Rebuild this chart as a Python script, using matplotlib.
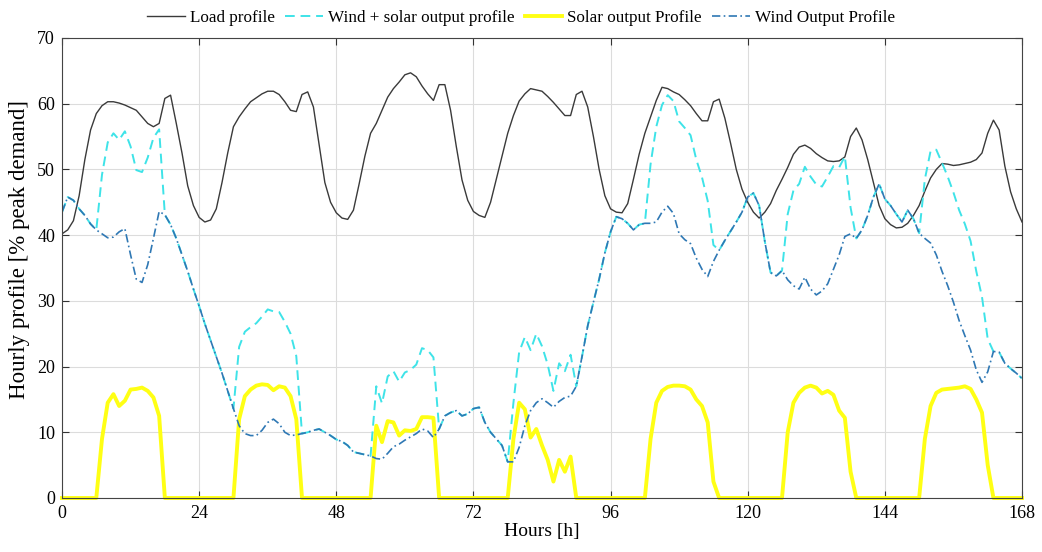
import numpy as np
import matplotlib
matplotlib.use('Agg')
import matplotlib.pyplot as plt

# hourly values over one week (h0 .. h168)
hours = np.arange(0, 169)

load = [
    40.2, 40.8, 42.2, 46, 51.5, 56, 58.5, 59.7, 60.3, 60.3, 60.1, 59.8, 59.4, 59, 58, 57, 56.5, 57, 60.8, 61.3, 57, 52.5, 47.5, 44.5,
    42.7, 42, 42.3, 44, 48, 52.5, 56.5, 58, 59.2, 60.3, 60.9, 61.5, 61.9, 61.9, 61.4, 60.3, 59, 58.8, 61.4, 61.8, 59.5, 53.8, 48, 45,
    43.4, 42.6, 42.4, 43.8, 47.8, 52, 55.5, 57, 59, 61, 62.3, 63.3, 64.4, 64.7, 64.1, 62.7, 61.5, 60.5, 62.9, 62.9, 59, 53.5, 48.4, 45.3,
    43.6, 43, 42.7, 45, 48.5, 52, 55.5, 58.2, 60.4, 61.5, 62.3, 62.1, 61.9, 61.1, 60.2, 59.2, 58.2, 58.2, 61.4, 61.9, 59.5, 55, 50, 46,
    44, 43.5, 43.4, 44.8, 48.5, 52.3, 55.5, 58, 60.5, 62.5, 62.3, 61.8, 61.4, 60.6, 59.7, 58.5, 57.4, 57.4, 60.3, 60.7, 57.8, 54, 50, 47,
    45, 43.5, 42.6, 43.5, 44.8, 46.8, 48.5, 50.3, 52.3, 53.4, 53.7, 53.2, 52.4, 51.8, 51.3, 51.2, 51.3, 51.9, 55, 56.3, 54.5, 51.5, 48, 44.5,
    42.5, 41.6, 41.1, 41.2, 41.8, 43, 44.5, 46.7, 48.7, 50, 50.9, 50.8, 50.6, 50.7, 50.9, 51.1, 51.5, 52.5, 55.5, 57.5, 56, 50.5, 46.6, 44,
    42,
]

wind = [
    43.5, 45.8, 45.3, 44, 43, 41.7, 40.8, 40.2, 39.6, 39.7, 40.5, 41, 37, 33.3, 32.8, 35.5, 39.5, 43.6, 43.1, 41.6, 39.5, 37, 34.5, 31.8,
    29.2, 26.5, 24, 21.5, 19, 16.3, 13.6, 11, 9.8, 9.5, 9.5, 10.3, 11.5, 12, 11.3, 10, 9.5, 9.6, 9.8, 10, 10.3, 10.5, 10, 9.5,
    8.9, 8.6, 8, 7, 6.8, 6.6, 6.4, 6, 5.9, 6.8, 7.8, 8.2, 8.8, 9.3, 9.8, 10.5, 10.2, 9.2, 10.5, 12.5, 13, 13.3, 12.5, 12.8,
    13.6, 13.8, 11.5, 10, 9, 8, 5.5, 5.5, 7.7, 11, 13.3, 14.5, 15.1, 14.5, 13.8, 14.7, 15.3, 15.5, 17, 21.5, 26.2, 29.8, 33.3, 37.3,
    40.5, 42.8, 42.5, 41.8, 40.8, 41.6, 41.8, 41.8, 42, 43.5, 44.4, 43.3, 40.2, 39.3, 38.7, 36.5, 34.8, 33.7, 36, 37.7, 39.2, 40.6, 42, 43.5,
    45.8, 46.4, 44.5, 39, 34.3, 33.8, 34.6, 33.2, 32.3, 31.8, 33.6, 31.8, 30.9, 31.5, 32.6, 34.8, 37, 39.8, 40.2, 39.5, 40.8, 43, 45.8, 47.8,
    45.5, 44.5, 43.2, 42, 43.8, 42.5, 40.3, 39.5, 38.8, 37, 34.5, 32.3, 29.8, 27, 24.7, 22.5, 19.5, 17.6, 19.2, 22.3, 22.2, 20.5, 19.7, 19,
    18.2,
]

solar = [
    0, 0, 0, 0, 0, 0, 0, 9, 14.5, 15.8, 14, 14.8, 16.5, 16.6, 16.8, 16.3, 15.3, 12.5, 0, 0, 0, 0, 0, 0,
    0, 0, 0, 0, 0, 0, 0, 12, 15.5, 16.5, 17.1, 17.3, 17.2, 16.4, 17, 16.8, 15.5, 12, 0, 0, 0, 0, 0, 0,
    0, 0, 0, 0, 0, 0, 0, 11, 8.5, 11.7, 11.5, 9.5, 10.3, 10.2, 10.5, 12.3, 12.3, 12.2, 0, 0, 0, 0, 0, 0,
    0, 0, 0, 0, 0, 0, 0, 9, 14.5, 13.5, 9.2, 10.5, 8, 5.8, 2.5, 5.8, 4, 6.3, 0, 0, 0, 0, 0, 0,
    0, 0, 0, 0, 0, 0, 0, 9, 14.5, 16.3, 16.9, 17.1, 17.1, 17, 16.5, 15, 14, 11.5, 2.5, 0, 0, 0, 0, 0,
    0, 0, 0, 0, 0, 0, 0, 10, 14.5, 16, 16.8, 17.1, 16.8, 15.9, 16.3, 15.7, 13.3, 12.2, 4, 0, 0, 0, 0, 0,
    0, 0, 0, 0, 0, 0, 0, 9, 14, 16, 16.5, 16.6, 16.7, 16.8, 17, 16.6, 15, 13, 5, 0, 0, 0, 0, 0,
    0,
]

# the combined profile is the sum of the two generation profiles
wind_solar = np.array(wind) + np.array(solar)

plt.rcParams['font.family'] = ['Liberation Serif', 'DejaVu Serif']

fig = plt.figure(figsize=(10.42, 5.52), dpi=100)
ax = fig.add_axes([62 / 1042, 54 / 552, 960 / 1042, 460 / 552])

ax.plot(hours, load, color='#3a3a3a', lw=1.0, label='Load profile')
ax.plot(hours, wind_solar, color='#3EE3E8', lw=1.4, ls=(0, (5, 3)),
        label='Wind + solar output profile')
ax.plot(hours, solar, color='#FFFF14', lw=2.8, clip_on=False,
        label='Solar output Profile')
ax.plot(hours, wind, color='#2F78B4', lw=1.2, ls=(0, (5, 2, 1, 2)),
        label='Wind Output Profile')

ax.set_xlim(0, 168)
ax.set_ylim(0, 70)
ax.set_xticks(range(0, 169, 24))
ax.set_yticks(range(0, 71, 10))
ax.grid(True, color='#dcdcdc', lw=0.8)
ax.set_axisbelow(True)
ax.tick_params(direction='in', top=True, right=True, labelsize=13,
               length=5, color='#333333', pad=5)
for s in ax.spines.values():
    s.set_color('#444444')
    s.set_linewidth(0.8)

ax.set_xlabel('Hours [h]', fontsize=14, labelpad=1)
ax.set_ylabel('Hourly profile [% peak demand]', fontsize=16.5)
ax.yaxis.set_label_coords(-0.033, 0.54)

fig.legend(loc='upper center', bbox_to_anchor=(0.5, 1.01), ncol=4,
           frameon=False, fontsize=12.3, handlelength=2.2,
           handletextpad=0.3, columnspacing=0.6)

fig.savefig('out.png', dpi=100)
